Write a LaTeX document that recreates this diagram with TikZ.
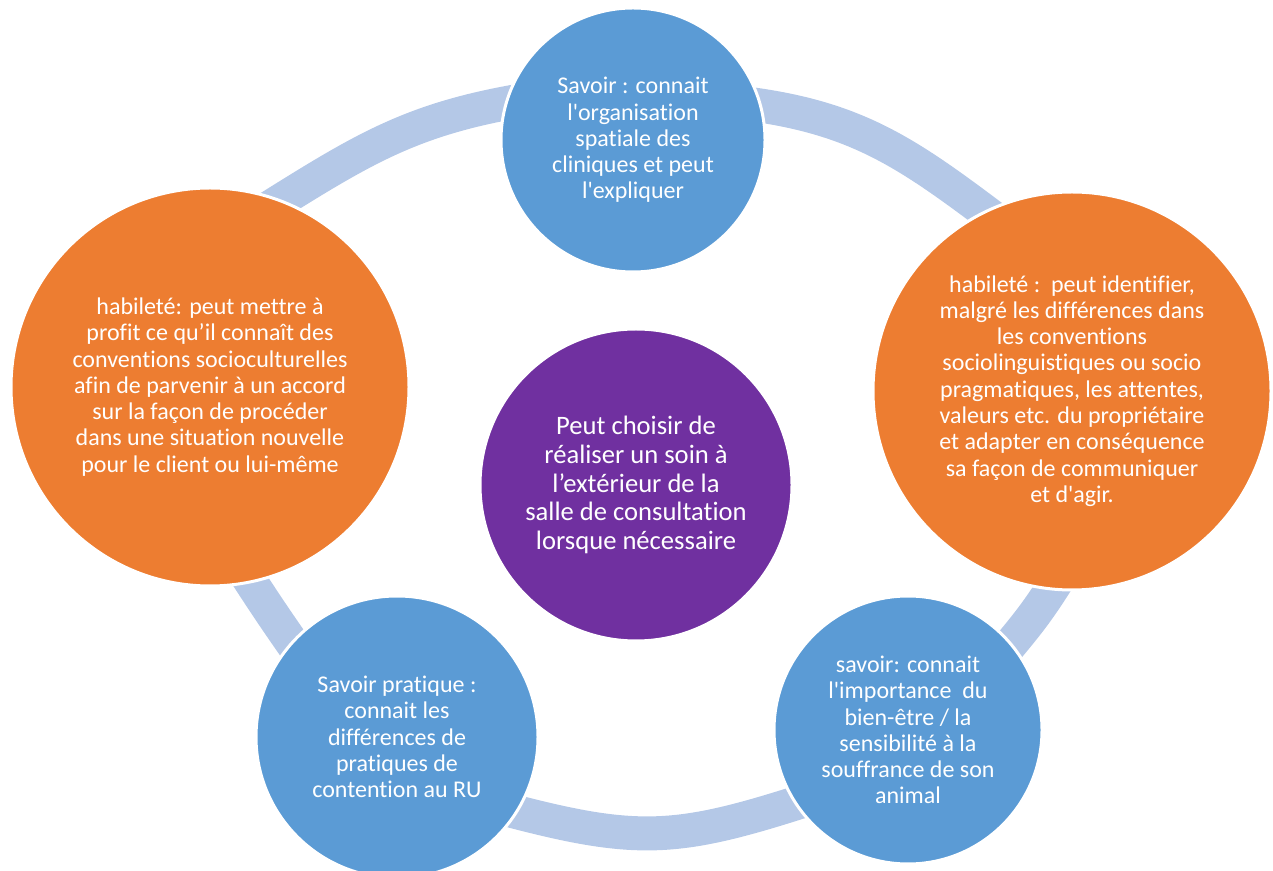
\documentclass[tikz,border=0pt]{standalone}
\usepackage{fontspec}
\setmainfont{Carlito}[Ligatures={TeXOff,CommonOff}]
\usepackage{tikz}
\usetikzlibrary{backgrounds}
\definecolor{savoirblue}{RGB}{91, 155, 213}
\definecolor{habileteorange}{RGB}{237, 125, 49}
\definecolor{hubpurple}{RGB}{112, 48, 160}
\definecolor{ringblue}{RGB}{180, 200, 231}
\newcommand{\bubblefont}{\fontsize{24}{26.3}\selectfont}
\newcommand{\hubfont}{\fontsize{26.6}{28.7}\selectfont}
\tikzset{
    bubble/.style={circle, draw=white, line width=3pt, text=white, align=center, inner sep=0pt, font=\bubblefont},
    savoir/.style={bubble, fill=savoirblue},
    habilete/.style={bubble, fill=habileteorange},
    hub/.style={bubble, fill=hubpurple, font=\hubfont},
    ring/.style={draw=ringblue, line width=34pt, shorten <=-20pt, shorten >=-20pt}
}

\begin{document}
\begin{tikzpicture}[x=1pt, y=1pt]
        \useasboundingbox (0,0) rectangle (1273,870);

        \node[hub, minimum size=312pt] (care) at (636, 385) {Peut choisir de\\réaliser un soin à\\l’extérieur de la\\salle de consultation\\lorsque nécessaire};

        \node[savoir, minimum size=264pt] (spatial) at (633, 730) {Savoir : connait\\l'organisation\\spatiale des\\cliniques et peut\\l'expliquer};
        \node[habilete, minimum size=398pt] (identify) at (1072, 479) {habileté :~~peut identifier,\\malgré les différences dans\\les conventions\\sociolinguistiques ou socio\\pragmatiques, les attentes,\\valeurs etc. du propriétaire\\et adapter en conséquence\\sa façon de communiquer\\et d'agir.};
        \node[savoir, minimum size=268pt] (welfare) at (908, 140) {savoir: connait\\l'importance~~du\\bien-être / la\\sensibilité à la\\souffrance de son\\animal};
        \node[savoir, minimum size=282pt] (restraint) at (397, 133) {Savoir pratique :\\connait les\\différences de\\pratiques de\\contention au RU};
        \node[habilete, minimum size=398pt] (conventions) at (210, 483) {habileté: peut mettre à\\profit ce qu’il connaît des\\conventions socioculturelles\\afin de parvenir à un accord\\sur la façon de procéder\\dans une situation nouvelle\\pour le client ou lui-même};

        % cycle band behind the bubbles
        \begin{scope}[on background layer]
            \draw[ring] (conventions.69) to[out=32, in=189.5] (spatial.164);
            \draw[ring] (spatial.15) to[out=-7, in=143] (identify.116);
            \draw[ring] (identify.264) to[out=-122, in=50] (welfare.40);
            \draw[ring] (welfare.213) to[out=198, in=-15, looseness=1.15] (restraint.-32);
            \draw[ring] (restraint.138) to[out=125, in=-57] (conventions.-78);
        \end{scope}
    \end{tikzpicture}
\end{document}
